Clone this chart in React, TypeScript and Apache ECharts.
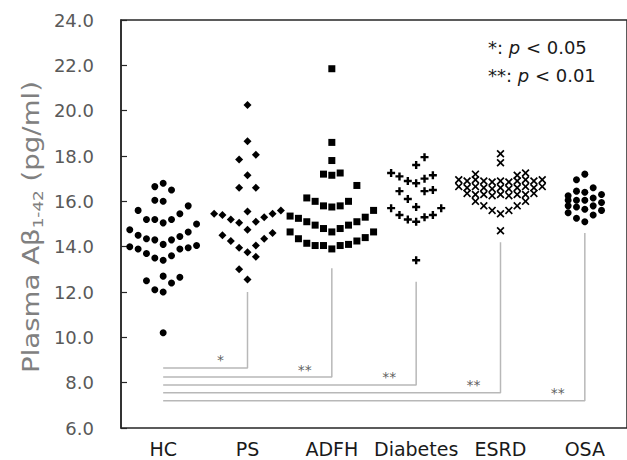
import React, { useEffect, useRef } from "react";
import * as echarts from "echarts";

const categories = ["HC", "PS", "ADFH", "Diabetes", "ESRD", "OSA"];
const yMin = 6;
const yMax = 24;
const yStep = 2;

// swarm column index (offset from group centre) and value for each subject
const hcCols = [0, -1, 1, -1, 0, -3, 3, -2, -1, 0, 1, 2, 4, -4, -3, -2, -1, 0, 1, 2, 3, -4, -3, -2, -1, 0, 1, 2, 3, 4, -2, 0, 1, 2, -1, 0, 0];
const hcValues = [16.8, 16.65, 16.5, 16.05, 16.0, 15.6, 15.8, 15.2, 15.2, 15.05, 15.2, 15.45, 15.0, 14.75, 14.5, 14.35, 14.3, 14.1, 14.3, 14.45, 14.65, 14.0, 13.9, 13.7, 13.5, 13.4, 13.6, 13.9, 13.95, 14.05, 12.5, 12.7, 12.4, 12.65, 12.1, 12.0, 10.2];

const psCols = [0, 0, -1, 1, 0, -1, 1, -4, -3, -2, -1, 0, 1, 2, 3, 4, -3, -2, 0, 2, 3, -1, 0, 1, 1, -1, 0];
const psValues = [20.25, 18.65, 17.85, 18.05, 17.15, 16.6, 16.6, 15.45, 15.4, 15.2, 15.05, 15.55, 15.1, 15.3, 15.45, 15.6, 14.5, 14.25, 14.75, 14.35, 14.6, 13.95, 13.75, 14.05, 13.55, 13.0, 12.55];

const adfhCols = [0, 0, 0, -1, 0, 1, 3, -3, -2, -1, 0, 1, 2, -5, -4, -3, -2, -1, 0, 1, 2, 3, 4, 5, -5, -4, -3, -2, -1, 0, 1, 2, 3, 4, 5];
const adfhValues = [21.85, 18.6, 17.8, 17.2, 17.15, 17.25, 16.7, 16.15, 16.0, 15.8, 15.75, 15.8, 16.0, 15.35, 15.25, 15.1, 14.95, 14.8, 14.65, 14.8, 14.95, 15.1, 15.3, 15.6, 14.65, 14.35, 14.15, 14.05, 14.05, 13.9, 14.05, 14.1, 14.25, 14.4, 14.65];

const diabetesCols = [1, 0, -3, -2, -1, 0, 1, 2, -2, 1, 2, -1, 0, -3, -2, -1, 0, 1, 2, 3, 0];
const diabetesValues = [17.95, 17.6, 17.25, 17.1, 16.9, 16.8, 17.0, 17.15, 16.45, 16.45, 16.5, 16.1, 15.75, 15.7, 15.4, 15.2, 15.1, 15.3, 15.4, 15.7, 13.4];

const esrdCols = [0, 0, -3, 2, 3, -5, -4, -3, -2, -1, 0, 1, 2, 3, 4, 5, -5, -4, -3, -2, -1, 0, 1, 2, 3, 4, 5, -4, -3, -2, -1, 0, 1, 2, 3, 4, -3, 3, -2, -1, 0, 1, 2, 0];
const esrdValues = [18.1, 17.7, 17.2, 17.15, 17.25, 16.95, 16.9, 16.95, 16.9, 16.85, 16.9, 16.85, 16.9, 16.95, 16.9, 16.95, 16.65, 16.6, 16.65, 16.6, 16.55, 16.6, 16.55, 16.6, 16.65, 16.6, 16.65, 16.35, 16.3, 16.3, 16.25, 16.3, 16.25, 16.3, 16.3, 16.35, 16.0, 16.0, 15.8, 15.6, 15.45, 15.6, 15.8, 14.7];

const osaCols = [0, -1, 1, -2, -1, 0, 2, -2, -1, 0, 1, 2, -2, -1, 0, 1, 2, -2, 1, -1, 0];
const osaValues = [17.2, 16.95, 16.6, 16.25, 16.45, 16.4, 16.3, 16.05, 16.05, 16.05, 16.15, 15.95, 15.8, 15.75, 15.65, 15.8, 15.6, 15.5, 15.4, 15.25, 15.1];

// significance brackets: HC vs each group
const bracketGroups = [1, 2, 3, 4, 5];
const bracketY = [8.65, 8.25, 7.9, 7.55, 7.2];
const bracketTop = [12.0, 13.05, 12.45, 14.2, 14.6];
const bracketStars = ["*", "**", "**", "**", "**"];

const legendStars = ["*", "**"];
const legendP = ["0.05", "0.01"];

const FONT = "DejaVu Sans";
const COL = 0.099;

export default function App() {
  const ref = useRef<HTMLDivElement>(null);
  useEffect(() => {
    if (!ref.current) return;
    const chart = echarts.init(ref.current, null, { renderer: "svg" });

    const groups = [
      { cols: hcCols, values: hcValues, symbol: "circle", size: 7 },
      { cols: psCols, values: psValues, symbol: "diamond", size: 8 },
      { cols: adfhCols, values: adfhValues, symbol: "rect", size: 7 },
      {
        cols: diabetesCols,
        values: diabetesValues,
        symbol: "path://M3.5,0H6.5V3.5H10V6.5H6.5V10H3.5V6.5H0V3.5H3.5Z",
        size: 8,
      },
      {
        cols: esrdCols,
        values: esrdValues,
        symbol: "path://M1.5,0L5,3.5L8.5,0L10,1.5L6.5,5L10,8.5L8.5,10L5,6.5L1.5,10L0,8.5L3.5,5L0,1.5Z",
        size: 8,
      },
      { cols: osaCols, values: osaValues, symbol: "circle", size: 7 },
    ];

    const series: any[] = [];
    groups.forEach((g, gi) => {
      series.push({
        type: "scatter",
        xAxisIndex: 1,
        symbol: g.symbol,
        symbolSize: g.size,
        itemStyle: { color: "#000", opacity: 1 },
        data: g.values.map((v, i) => [gi + 0.5 + g.cols[i] * COL, v]),
        silent: true,
        z: 3,
      });
    });

    bracketGroups.forEach((gi, bi) => {
      series.push({
        type: "line",
        xAxisIndex: 1,
        symbol: "none",
        lineStyle: { color: "#b8b8b8", width: 1.5 },
        data: [
          [0.5, bracketY[bi]],
          [gi + 0.5, bracketY[bi]],
          [gi + 0.5, bracketTop[bi]],
        ],
        silent: true,
        z: 2,
      });
      series.push({
        type: "scatter",
        xAxisIndex: 1,
        symbol: "circle",
        symbolSize: 1,
        itemStyle: { color: "rgba(255,255,255,0)" },
        label: {
          show: true,
          position: "top",
          distance: 0,
          formatter: bracketStars[bi],
          color: "#333333",
          textBorderWidth: 0,
          fontSize: 14,
          fontFamily: FONT,
        },
        data: [[gi + 0.5 - 0.32, bracketY[bi]]],
        silent: true,
        z: 2,
      });
    });

    const option: any = {
      animation: false,
      backgroundColor: "#fff",
      grid: {
        left: 121,
        top: 20,
        width: 513,
        height: 408,
        show: true,
        borderColor: "#262626",
        borderWidth: 1.5,
        backgroundColor: "transparent",
      },
      xAxis: [
        {
          type: "category",
          data: categories,
          boundaryGap: true,
          axisLine: { show: false },
          axisTick: { show: false },
          axisLabel: {
            interval: 0,
            color: "#1a1a1a",
            fontSize: 19,
            fontFamily: FONT,
            margin: 11,
          },
        },
        { type: "value", min: 0, max: 6, show: false },
      ],
      yAxis: {
        type: "value",
        min: yMin,
        max: yMax,
        interval: yStep,
        axisLine: { show: true, lineStyle: { color: "#262626", width: 1.5 } },
        axisTick: { show: true, inside: true, length: 6, lineStyle: { color: "#262626", width: 1.2 } },
        splitLine: { show: false },
        axisLabel: {
          color: "#595959",
          fontSize: 18,
          fontFamily: FONT,
          margin: 27,
          formatter: (v: number) => v.toFixed(1),
        },
      },
      graphic: [
        {
          type: "text",
          x: 31,
          y: 227,
          rotation: Math.PI / 2,
          scaleX: 1.2,
          style: {
            text: "Plasma Aβ{sub|1-42} (pg/ml)",
            fill: "#808080",
            fontSize: 23,
            fontFamily: FONT,
            align: "center",
            verticalAlign: "middle",
            lineHeight: 28,
            rich: {
              sub: { fontSize: 14, fontFamily: FONT, fill: "#808080", verticalAlign: "bottom", lineHeight: 28 },
            },
          },
        },
        ...legendStars.map((s, i) => ({
          type: "text",
          x: 488,
          y: 47 + i * 28,
          style: {
            text: `{n|${s}: }{i|p}{n| < ${legendP[i]}}`,
            verticalAlign: "middle",
            align: "left",
            rich: {
              n: { fontSize: 18, fontFamily: FONT, fill: "#1a1a1a" },
              i: { fontSize: 18, fontFamily: FONT, fontStyle: "italic", fill: "#1a1a1a" },
            },
          },
        })),
      ],
      series,
    };
    chart.setOption(option);
    return () => chart.dispose();
  }, []);

  return (
    <div
      ref={ref}
      style={{ position: "fixed", left: 0, top: 0, width: 627, height: 460, background: "#fff" }}
    />
  );
}
